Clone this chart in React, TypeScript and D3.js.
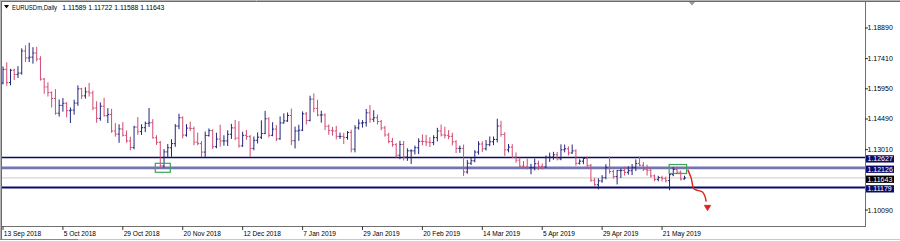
import React from "react";
import * as d3 from "d3";

// ---------- data (EURUSDm, Daily) ----------
const opens = [
  1.1623, 1.1689, 1.1625, 1.1685, 1.1664, 1.1671, 1.1778, 1.1744, 1.1748, 1.1768, 1.1739, 1.1642,
  1.1604, 1.1577, 1.1548, 1.1477, 1.1515, 1.1525, 1.1489, 1.1492, 1.1526, 1.1595, 1.1561, 1.158, 1.1575, 1.1502, 1.1452, 1.1511, 1.1465, 1.1471, 1.1391, 1.1376, 1.1401, 1.137, 1.1343,
  1.1311, 1.141, 1.1388, 1.1407, 1.1428, 1.1431, 1.1358, 1.1336, 1.1222, 1.129, 1.131, 1.133, 1.1415, 1.1455, 1.1371, 1.1405, 1.1403, 1.1337, 1.133, 1.1289, 1.1369, 1.1393,
  1.1315, 1.1352, 1.1343, 1.1343, 1.1375, 1.1406, 1.1356, 1.1319, 1.137, 1.1364, 1.1307, 1.1346, 1.1361, 1.1379, 1.145, 1.137, 1.14, 1.1353, 1.143, 1.144,
  1.1466, 1.1344, 1.1391, 1.1395, 1.1474, 1.1442, 1.1545, 1.15, 1.1468, 1.1469, 1.1414, 1.1394, 1.1391, 1.1365, 1.1365, 1.136, 1.1384, 1.1303, 1.1406, 1.1429, 1.1431, 1.1479,
  1.1448, 1.1455, 1.1437, 1.1406, 1.1372, 1.134, 1.1325, 1.1274, 1.1326, 1.1265, 1.1295, 1.1295, 1.131, 1.1341, 1.134, 1.1337, 1.1335, 1.1359, 1.1391, 1.1372,
  1.137, 1.1365, 1.1339, 1.1307, 1.1307, 1.1193, 1.1235, 1.1247, 1.1289, 1.1328, 1.1305, 1.1325, 1.1339, 1.135, 1.1415, 1.1374, 1.13, 1.1313, 1.1264, 1.125, 1.1221,
  1.1217, 1.1214, 1.1214, 1.1233, 1.122, 1.1217, 1.1264, 1.1265, 1.1276, 1.1256, 1.13, 1.1305, 1.1285, 1.1295, 1.1235, 1.1245, 1.1258, 1.1225, 1.1153, 1.1131, 1.115, 1.1165,
  1.1215, 1.1195, 1.1171, 1.12, 1.12, 1.1191, 1.1199, 1.1215, 1.1234, 1.1225, 1.1206, 1.1201, 1.1174, 1.1157, 1.1166, 1.1161, 1.1151, 1.118, 1.1205, 1.1192, 1.11589,
];
const highs = [
  1.1701, 1.1721, 1.1689, 1.169, 1.1702, 1.1788, 1.1803, 1.1815, 1.1794, 1.1796, 1.175, 1.1645,
  1.1624, 1.158, 1.1591, 1.1541, 1.1548, 1.1528, 1.1502, 1.154, 1.1609, 1.1597, 1.16, 1.1621, 1.1584, 1.1532, 1.1527, 1.1549, 1.1499, 1.1496, 1.1427, 1.1421, 1.1432, 1.1391, 1.1361,
  1.1414, 1.1456, 1.1421, 1.1434, 1.15, 1.1446, 1.1368, 1.134, 1.1301, 1.1326, 1.1349, 1.1422, 1.1472, 1.1459, 1.1422, 1.1434, 1.141, 1.1381, 1.134, 1.1386, 1.1401, 1.1397,
  1.138, 1.1419, 1.1368, 1.1392, 1.1423, 1.1442, 1.1436, 1.1385, 1.1394, 1.1369, 1.1362, 1.1382, 1.144, 1.1486, 1.1455, 1.1431, 1.1417, 1.1459, 1.1474, 1.1478,
  1.1497, 1.141, 1.1419, 1.1483, 1.148, 1.1559, 1.157, 1.154, 1.1487, 1.1474, 1.142, 1.1408, 1.1413, 1.1381, 1.138, 1.1388, 1.1395, 1.1417, 1.1445, 1.1441, 1.1495, 1.1514,
  1.1489, 1.1468, 1.1442, 1.1413, 1.138, 1.1355, 1.133, 1.1341, 1.134, 1.1305, 1.13, 1.1318, 1.1353, 1.1372, 1.137, 1.1359, 1.1368, 1.1404, 1.142, 1.1409,
  1.1393, 1.138, 1.1344, 1.1318, 1.1323, 1.1249, 1.1259, 1.1296, 1.1339, 1.1339, 1.1345, 1.1362, 1.1362, 1.1448, 1.1438, 1.1383, 1.1326, 1.1325, 1.1285, 1.126, 1.1244,
  1.1255, 1.123, 1.1255, 1.1245, 1.1232, 1.127, 1.1284, 1.1288, 1.1287, 1.1324, 1.1323, 1.1314, 1.1323, 1.13, 1.1252, 1.1263, 1.1265, 1.1229, 1.1162, 1.116, 1.1175, 1.1228,
  1.1265, 1.1201, 1.12, 1.1207, 1.1216, 1.1218, 1.1229, 1.1251, 1.1264, 1.1239, 1.1226, 1.1207, 1.1178, 1.1172, 1.1172, 1.1168, 1.1186, 1.1214, 1.1216, 1.1197, 1.11722,
];
const lows = [
  1.1619, 1.1612, 1.1614, 1.164, 1.165, 1.1666, 1.1727, 1.1727, 1.1719, 1.173, 1.1637, 1.1573,
  1.156, 1.1507, 1.1472, 1.1463, 1.1487, 1.1459, 1.1432, 1.1472, 1.1515, 1.1548, 1.155, 1.156, 1.1494, 1.1433, 1.1443, 1.1463, 1.1432, 1.1385, 1.1366, 1.1336, 1.1367, 1.1337, 1.13,
  1.1305, 1.1375, 1.1374, 1.1388, 1.1413, 1.1357, 1.1326, 1.1216, 1.1217, 1.1267, 1.1269, 1.1317, 1.1402, 1.1358, 1.1366, 1.1393, 1.1324, 1.1325, 1.1267, 1.1268, 1.1366, 1.1306,
  1.131, 1.1318, 1.1322, 1.1321, 1.1355, 1.1349, 1.1313, 1.1317, 1.1351, 1.1269, 1.13, 1.1333, 1.1354, 1.1378, 1.1362, 1.1368, 1.1344, 1.1351, 1.1429, 1.1437,
  1.1325, 1.1309, 1.1346, 1.1393, 1.1425, 1.144, 1.1484, 1.1465, 1.1434, 1.1398, 1.1375, 1.1371, 1.1353, 1.1355, 1.133, 1.1351, 1.129, 1.129, 1.14, 1.141, 1.1415, 1.1433,
  1.1437, 1.1425, 1.1397, 1.1366, 1.1334, 1.1317, 1.1265, 1.1257, 1.1251, 1.1249, 1.1234, 1.128, 1.1282, 1.1324, 1.1321, 1.1316, 1.1325, 1.1343, 1.1367, 1.1358,
  1.1354, 1.1324, 1.1287, 1.1288, 1.1176, 1.1187, 1.1229, 1.1242, 1.1279, 1.1292, 1.1299, 1.132, 1.1325, 1.1338, 1.1366, 1.1273, 1.129, 1.1262, 1.124, 1.1214, 1.121,
  1.1208, 1.1184, 1.1203, 1.1205, 1.1208, 1.1215, 1.1244, 1.1254, 1.1251, 1.1252, 1.129, 1.1275, 1.1283, 1.1226, 1.1231, 1.1233, 1.1219, 1.1148, 1.1128, 1.1111, 1.1143, 1.116,
  1.1187, 1.1163, 1.1135, 1.1166, 1.1178, 1.1182, 1.118, 1.12, 1.1222, 1.12, 1.1178, 1.1168, 1.115, 1.115, 1.1149, 1.1144, 1.1107, 1.1175, 1.1186, 1.1154, 1.11588,
];
const closes = [
  1.1689, 1.1625, 1.1685, 1.1664, 1.1671, 1.1778, 1.1744, 1.1748, 1.1768, 1.1739, 1.1642, 1.1604,
  1.1577, 1.1548, 1.1477, 1.1515, 1.1525, 1.1489, 1.1492, 1.1526, 1.1595, 1.1561, 1.158, 1.1575, 1.1502, 1.1452, 1.1511, 1.1465, 1.1471, 1.1391, 1.1376, 1.1401, 1.137, 1.1343, 1.1311,
  1.141, 1.1388, 1.1407, 1.1428, 1.1431, 1.1358, 1.1336, 1.1222, 1.129, 1.131, 1.133, 1.1415, 1.1455, 1.1371, 1.1405, 1.1403, 1.1337, 1.133, 1.1289, 1.1369, 1.1393, 1.1315,
  1.1352, 1.1343, 1.1343, 1.1375, 1.1406, 1.1356, 1.1319, 1.137, 1.1364, 1.1307, 1.1346, 1.1361, 1.1379, 1.145, 1.137, 1.14, 1.1353, 1.143, 1.144, 1.1466,
  1.1344, 1.1391, 1.1395, 1.1474, 1.1442, 1.1545, 1.15, 1.1468, 1.1469, 1.1414, 1.1394, 1.1391, 1.1365, 1.1365, 1.136, 1.1384, 1.1303, 1.1406, 1.1429, 1.1431, 1.1479, 1.1448,
  1.1455, 1.1437, 1.1406, 1.1372, 1.134, 1.1325, 1.1274, 1.1326, 1.1265, 1.1295, 1.1295, 1.131, 1.1341, 1.134, 1.1337, 1.1335, 1.1359, 1.1391, 1.1372, 1.137,
  1.1365, 1.1339, 1.1307, 1.1307, 1.1193, 1.1235, 1.1247, 1.1289, 1.1328, 1.1305, 1.1325, 1.1339, 1.135, 1.1415, 1.1374, 1.13, 1.1313, 1.1264, 1.125, 1.1221, 1.1217,
  1.1214, 1.1214, 1.1233, 1.122, 1.1217, 1.1264, 1.1265, 1.1276, 1.1256, 1.13, 1.1305, 1.1285, 1.1295, 1.1235, 1.1245, 1.1258, 1.1225, 1.1153, 1.1131, 1.115, 1.1165, 1.1215,
  1.1195, 1.1171, 1.12, 1.12, 1.1191, 1.1199, 1.1215, 1.1234, 1.1225, 1.1206, 1.1201, 1.1174, 1.1157, 1.1166, 1.1161, 1.1151, 1.118, 1.1205, 1.1192, 1.1159, 1.11643,
];

const dateLabels = [
  "13 Sep 2018", "5 Oct 2018", "29 Oct 2018", "20 Nov 2018", "12 Dec 2018", "7 Jan 2019",
  "29 Jan 2019", "20 Feb 2019", "14 Mar 2019", "5 Apr 2019", "29 Apr 2019", "21 May 2019",
];
const dateLabelStep = 16; // bars between date labels
const priceTicks = [1.1889, 1.1741, 1.1595, 1.1449, 1.1301, 1.1009];
const levelPrices = [1.12627, 1.12126, 1.11643, 1.11179];
const titleSymbol = "EURUSDm,Daily";
const titleQuote = "1.11589 1.11722 1.11588 1.11643";

// annotations (bar index, price)
const greenBoxes = [
  { i0: 40.67, i1: 44.67, pTop: 1.12348, pBottom: 1.11913 },
  { i0: 177.9, i1: 182.56, pTop: 1.1229, pBottom: 1.11855 },
];
const arrowIdx = [182.9, 183.8, 184.5, 185.5, 186.8, 187.4, 187.8];
const arrowPrice = [1.1203, 1.1162, 1.1111, 1.1104, 1.1096, 1.1078, 1.1049];
const arrowTip = { i: 188.15, p: 1.10062, base: 1.10315, half: 0.85 };

// ---------- view ----------
const W = 900;
const H = 241;
const plotLeft = 3;
const plotRight = 865;
const plotTop = 4;
const plotBottom = 226;
const visibleBars = 230.2;
const priceLow = 1.093164;
const priceHigh = 1.200504;
const UP = "#24247a";
const DOWN = "#d24a72";
const NAVY = "#0a0a68";
const FONT = "'Liberation Sans', Arial, sans-serif";

export default function App() {
  const x = d3.scaleLinear().domain([0, visibleBars]).range([plotLeft, plotRight]);
  const y = d3.scaleLinear().domain([priceLow, priceHigh]).range([plotBottom, plotTop]);

  const arrowLine = d3
    .line<number>()
    .x((_, k) => x(arrowIdx[k]))
    .y((p) => y(p))
    .curve(d3.curveCatmullRom.alpha(0.5));

  const levelStyles = [
    { stroke: NAVY, width: 1.4, box: NAVY },
    { stroke: "#7474b0", width: 2.6, box: NAVY },
    { stroke: "#d6d6d6", width: 1.4, box: "#000000" },
    { stroke: NAVY, width: 1.8, box: NAVY },
  ];

  return (
    <svg
      width={W}
      height={H}
      style={{ position: "fixed", left: 0, top: 0, display: "block", background: "#fff" }}
    >
      <rect x={0} y={0} width={W} height={H} fill="#ffffff" />

      {/* window frame */}
      <line x1={0} x2={W} y1={0.5} y2={0.5} stroke="#b4b4b4" />
      <line x1={0} x2={W} y1={1.5} y2={1.5} stroke="#6a6a6a" />
      <line x1={0.5} x2={0.5} y1={0} y2={239} stroke="#b4b4b4" />
      <line x1={1.5} x2={1.5} y1={1} y2={239} stroke="#6a6a6a" />
      <line x1={0} x2={W} y1={239.5} y2={239.5} stroke="#c8c8c8" />
      <line x1={0} x2={78} y1={239.5} y2={239.5} stroke="#8a8a8a" />

      {/* plot border */}
      <line x1={865.5} x2={865.5} y1={2} y2={226.5} stroke="#707070" />
      <line x1={2} x2={866} y1={226.5} y2={226.5} stroke="#707070" />

      {/* level lines */}
      {levelPrices.map((p, k) => (
        <line
          key={"lv" + k}
          x1={plotLeft - 1}
          x2={plotRight}
          y1={y(p)}
          y2={y(p)}
          stroke={levelStyles[k].stroke}
          strokeWidth={levelStyles[k].width}
        />
      ))}

      {/* bars */}
      {closes.map((c, i) => {
        const cx = x(i);
        const col = c >= opens[i] ? UP : DOWN;
        return (
          <g key={"b" + i} stroke={col} strokeWidth={1}>
            <line x1={cx} x2={cx} y1={y(highs[i]) - 0.5} y2={y(lows[i]) + 0.5} />
            <line x1={cx - 1.5} x2={cx} y1={y(opens[i])} y2={y(opens[i])} />
            <line x1={cx} x2={cx + 1.5} y1={y(c)} y2={y(c)} />
          </g>
        );
      })}

      {/* green rectangles */}
      {greenBoxes.map((b, k) => (
        <rect
          key={"gb" + k}
          x={x(b.i0)}
          y={y(b.pTop)}
          width={x(b.i1) - x(b.i0)}
          height={y(b.pBottom) - y(b.pTop)}
          fill="none"
          stroke="#3aa655"
          strokeWidth={1.2}
        />
      ))}

      {/* red arrow */}
      <path d={arrowLine(arrowPrice) || ""} fill="none" stroke="#e0201c" strokeWidth={1.4} />
      <path
        d={`M${x(arrowTip.i - arrowTip.half)},${y(arrowTip.base)} L${x(arrowTip.i + arrowTip.half)},${y(
          arrowTip.base
        )} L${x(arrowTip.i)},${y(arrowTip.p)} Z`}
        fill="#e0201c"
        stroke="#e0201c"
        strokeWidth={0.8}
      />

      {/* chart shift marker */}
      <path d={`M${x(184) - 3},2 L${x(184) + 3},2 L${x(184)},5.5 Z`} fill="#9a9a9a" />

      {/* title */}
      <path d="M4,5 L9,5 L6.5,8.5 Z" fill="#000" />
      <text
        x={12}
        y={10}
        fontFamily={FONT}
        fontSize={6.8}
        fill="#000"
        textLength={45}
        lengthAdjust="spacingAndGlyphs"
      >
        {titleSymbol}
      </text>
      <text
        x={62.3}
        y={10}
        fontFamily={FONT}
        fontSize={6.8}
        fill="#000"
        textLength={102}
        lengthAdjust="spacingAndGlyphs"
      >
        {titleQuote}
      </text>

      {/* price axis */}
      {priceTicks.map((p, k) => (
        <g key={"pt" + k}>
          <line x1={865} x2={868} y1={y(p)} y2={y(p)} stroke="#000" strokeWidth={0.8} />
          <text x={867.5} y={y(p) + 2.5} fontFamily={FONT} fontSize={7} fill="#000">
            {p.toFixed(5)}
          </text>
        </g>
      ))}

      {/* level labels */}
      {levelPrices.map((p, k) => (
        <g key={"ll" + k}>
          <rect x={866} y={y(p) - 2.3} width={28} height={7.3} fill={levelStyles[k].box} />
          <text x={867.5} y={y(p) + 3.8} fontFamily={FONT} fontSize={7} fill="#ffffff">
            {p.toFixed(5)}
          </text>
        </g>
      ))}

      {/* date axis */}
      {dateLabels.map((d, k) => {
        const tx = x(k * dateLabelStep);
        return (
          <g key={"dl" + k}>
            <line x1={tx} x2={tx} y1={226.5} y2={230} stroke="#000" strokeWidth={0.8} />
            <text x={tx + 0.8} y={235.5} fontFamily={FONT} fontSize={6.6} fill="#000">
              {d}
            </text>
          </g>
        );
      })}
    </svg>
  );
}
